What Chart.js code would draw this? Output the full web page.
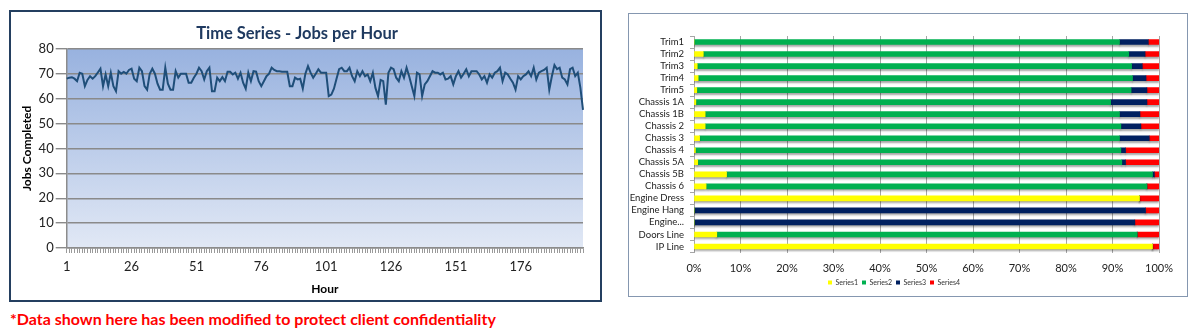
<!DOCTYPE html>
<html>
<head>
<meta charset="utf-8">
<title>Jobs per Hour / Line Balance</title>
<script src="https://cdn.jsdelivr.net/npm/chart.js@4.4.1/dist/chart.umd.min.js"></script>
<style>
    html, body { margin: 0; padding: 0; background: #fff; }
    body { width: 1199px; height: 332px; position: relative; overflow: hidden; font-family: Lato, "Open Sans", sans-serif; }
    #box-line { position: absolute; left: 9px; top: 10px; width: 589px; height: 288px; border: 2px solid #243f60; }
    #box-bar  { position: absolute; left: 628px; top: 13px; width: 558px; height: 282px; border: 1px solid #8597b0; }
    canvas { display: block; }
    #note { position: absolute; left: 10px; top: 309px; color: #ff0000; font-weight: bold; font-size: 16px; white-space: nowrap; }
</style>
</head>
<body>
<div id="box-line"><canvas id="line-chart" width="589" height="288"></canvas></div>
<div id="box-bar"><canvas id="bar-chart" width="558" height="282"></canvas></div>
<div id="note">*Data shown here has been modified to protect client confidentiality</div>

<script>
/* ── Left: jobs completed per hour (200 hours) ───────────────────────────── */
const hours = Array.from({ length: 200 }, (_, i) => i + 1);
const hourTicks = [1, 26, 51, 76, 101, 126, 151, 176];
const jobsPerHour = [
    68, 68.4, 68.6, 68, 67, 70.4, 70, 65, 67.5, 69,
    68, 69, 70.5, 72, 65, 69.7, 65, 70.4, 65, 63,
    71, 70, 70.7, 70, 71.5, 72, 68, 67, 72.4, 71,
    65, 63.6, 70, 72, 70, 66, 63.6, 63.6, 72.4, 66,
    63.6, 63.6, 71, 68.4, 70, 70, 70, 66.4, 66.4, 68.4,
    70, 72.4, 71, 67.7, 71, 72.4, 63, 63, 68.4, 67,
    68.6, 67, 70.8, 70.8, 69.7, 70.4, 68, 70.4, 66.4, 64,
    70.4, 67, 71, 70.8, 67, 65, 67, 69, 70, 72.4,
    71.5, 71, 71, 70.8, 70.8, 70.8, 65, 65, 68.4, 67.7,
    68, 64, 70, 73, 70.4, 68.4, 70, 71.8, 70.4, 70.4,
    70.4, 61, 61.6, 64, 68, 71.8, 72.4, 71, 71, 72.4,
    69, 67, 71, 69, 71, 69, 69.7, 67, 70.4, 64.3,
    61, 67.5, 67, 57.6, 70.4, 72.4, 71.8, 68.4, 67, 71,
    68.4, 72.4, 69, 65, 61, 70.4, 69.7, 61, 65.7, 67,
    69, 71, 70.4, 70.4, 69.7, 70.4, 67.7, 68, 69, 65.7,
    69, 71, 68.4, 70, 71.8, 69, 71, 71, 71, 69.7,
    67.7, 69, 66.4, 69.7, 68.4, 70.4, 71, 72.4, 67, 70.4,
    69.7, 68, 66.4, 63.6, 69, 67.7, 69, 69.7, 71, 69,
    72.4, 67.7, 70.4, 71, 71.5, 72.4, 63.6, 69, 73.5, 71.8,
    72.4, 68.4, 67.7, 65.7, 71.8, 72.4, 69, 70.4, 64.3, 55.5
];

/* ── Right: share per station (percent, four series) ─────────────────────── */
const stations = [
    'Trim1', 'Trim2', 'Trim3', 'Trim4', 'Trim5',
    'Chassis 1A', 'Chassis 1B', 'Chassis 2', 'Chassis 3', 'Chassis 4',
    'Chassis 5A', 'Chassis 5B', 'Chassis 6', 'Engine Dress', 'Engine Hang',
    'Engine...', 'Doors Line', 'IP Line'
];
const series1 = [0,    2.0,  0.7,  0.9,  0.6,  0.4,  2.4,  2.4,  1.2,  0.3,  0.8,  7.0,  2.6,  95.8, 0,    0,    4.9,  98.6];
const series2 = [91.5, 91.5, 93.4, 93.4, 93.4, 89.2, 89.1, 89.4, 90.3, 91.5, 91.2, 91.6, 94.8, 0,    0,    0,    90.4, 0];
const series3 = [6.2,  3.5,  2.3,  2.9,  3.4,  7.8,  4.4,  4.3,  6.4,  1.0,  0.8,  0.4,  0,    0,    97.1, 94.8, 0,    0];
const series4 = [2.3,  3.0,  3.6,  2.8,  2.6,  2.6,  4.1,  3.9,  2.1,  7.2,  7.2,  1.0,  2.6,  4.2,  2.9,  5.2,  4.7,  1.4];
const seriesNames  = ['Series1', 'Series2', 'Series3', 'Series4'];
const seriesColors = ['#ffff00', '#00b050', '#002060', '#ff0000'];

const FONT = 'Lato, "Open Sans", sans-serif';

// blue gradient behind the line plot
const plotGradient = {
    id: 'plotGradient',
    beforeDraw(chart) {
        const { ctx, chartArea: a } = chart;
        const g = ctx.createLinearGradient(0, a.top, 0, a.bottom);
        g.addColorStop(0, '#98b2df');
        g.addColorStop(1, '#e1e8f5');
        ctx.save();
        ctx.fillStyle = g;
        ctx.fillRect(a.left, a.top, a.width, a.height);
        ctx.restore();
    }
};

// soft drop shadow under the stacked bars
const barShadow = {
    id: 'barShadow',
    beforeDatasetsDraw(chart) {
        const ctx = chart.ctx;
        ctx.save();
        ctx.shadowColor   = 'rgba(0,0,0,0.35)';
        ctx.shadowBlur    = 2;
        ctx.shadowOffsetY = 2;
    },
    afterDatasetsDraw(chart) { chart.ctx.restore(); }
};

function buildLineChart() {
    const canvas = document.getElementById('line-chart');
    new Chart(canvas, {
        type: 'line',
        data: {
            labels: hours,
            datasets: [{
                label: 'Jobs Completed',
                data: jobsPerHour,
                borderColor: '#1f4e79',
                borderWidth: 2,
                pointRadius: 0,
                tension: 0,
                fill: false
            }]
        },
        plugins: [plotGradient],
        options: {
            responsive: false,
            animation: false,
            layout: { padding: { left: 0, right: 17, top: 0, bottom: 0 } },
            plugins: {
                legend: { display: false },
                tooltip: { enabled: false },
                title: {
                    display: true,
                    text: 'Time Series - Jobs per Hour',
                    color: '#1f3a60',
                    font: { family: FONT, size: 16.5, weight: 'bold' },
                    padding: { top: 12, bottom: 5 }
                }
            },
            scales: {
                x: {
                    type: 'category',
                    offset: false,
                    afterFit: s => { s.height = 52; },
                    border: { color: '#8c8c8c', width: 1.5 },
                    grid: { drawOnChartArea: false, drawTicks: true, tickLength: 5, color: '#9a9a9a', offset: false },
                    ticks: {
                        autoSkip: false, maxRotation: 0, minRotation: 0, padding: 6,
                        color: '#222', font: { family: FONT, size: 13 },
                        callback: (v, i) => hourTicks.includes(hours[i]) ? String(hours[i]) : ''
                    },
                    title: {
                        display: true, text: 'Hour', color: '#000',
                        font: { family: FONT, size: 12, weight: 'bold' },
                        padding: { top: 0, bottom: 4 }
                    }
                },
                y: {
                    min: 0, max: 80,
                    afterFit: s => { s.width = 55.7; },
                    border: { color: '#8c8c8c', width: 1.5 },
                    grid: { color: '#8a8a8a', lineWidth: 1.4, tickLength: 11 },
                    ticks: { stepSize: 10, padding: 2, color: '#222', font: { family: FONT, size: 13 } },
                    title: {
                        display: true, text: 'Jobs Completed', color: '#000',
                        font: { family: FONT, size: 12, weight: 'bold' },
                        padding: { top: 9, bottom: 0 }
                    }
                }
            }
        }
    });
}

function buildBarChart() {
    const canvas = document.getElementById('bar-chart');
    const values = [series1, series2, series3, series4];
    new Chart(canvas, {
        type: 'bar',
        data: {
            labels: stations,
            datasets: values.map((d, i) => ({
                label: seriesNames[i],
                data: d,
                backgroundColor: seriesColors[i],
                borderWidth: 0,
                barThickness: 5
            }))
        },
        plugins: [barShadow],
        options: {
            indexAxis: 'y',
            responsive: false,
            animation: false,
            layout: { padding: { left: 0, right: 28, top: 22, bottom: 0 } },
            plugins: {
                tooltip: { enabled: false },
                legend: {
                    position: 'bottom',
                    labels: { boxWidth: 4, boxHeight: 4, padding: 4, color: '#333', font: { family: FONT, size: 7 } }
                }
            },
            scales: {
                x: {
                    stacked: true, min: 0, max: 100,
                    afterFit: s => { s.height = 22.5; },
                    border: { display: false },
                    grid: { color: '#a6a6a6', lineWidth: 1, drawTicks: false },
                    ticks: { stepSize: 10, padding: 9, color: '#222', font: { family: FONT, size: 11 }, callback: v => v + '%' }
                },
                y: {
                    stacked: true,
                    afterFit: s => { s.width = 65; },
                    border: { color: '#a6a6a6', width: 1 },
                    grid: { drawOnChartArea: false, tickLength: 4, color: '#a6a6a6' },
                    ticks: { autoSkip: false, padding: 6, color: '#222', font: { family: FONT, size: 9.5 } }
                }
            }
        }
    });
}

buildLineChart();
buildBarChart();
</script>
</body>
</html>
